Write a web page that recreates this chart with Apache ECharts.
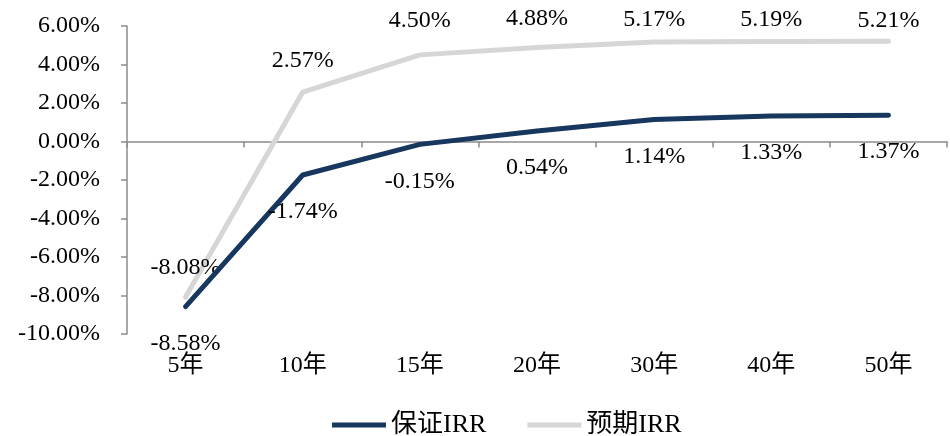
<!DOCTYPE html>
<html>
<head>
<meta charset="utf-8">
<script src="https://cdn.jsdelivr.net/npm/echarts@6/dist/echarts.min.js"></script>
<style>
  html, body { margin: 0; padding: 0; background: #fff; }
  #chart { width: 950px; height: 436px; }
</style>
</head>
<body>
<div id="chart"></div>
<script>
// IRR by holding period
const categories = ['5年', '10年', '15年', '20年', '30年', '40年', '50年'];
const guaranteedIRR = [-8.58, -1.74, -0.15, 0.54, 1.14, 1.33, 1.37];
const expectedIRR = [-8.08, 2.57, 4.50, 4.88, 5.17, 5.19, 5.21];
const yTicks = { min: -10, max: 6, interval: 2 };

// vertical nudges for the upper labels so they clear the line
const expectedLabelShift = [-14, -16, -19, -14, -7, -7, -6];

const FONT = '"Liberation Serif", "Times New Roman", "Noto Sans CJK SC", serif';
const AXIS_GRAY = '#8c8c8c';
const NAVY = '#17375e';
const LIGHT = '#d6d6d6';
const pct = v => v.toFixed(2) + '%';

const chart = echarts.init(document.getElementById('chart'));
chart.setOption({
  animation: false,
  grid: { left: 127, right: 3, top: 26, bottom: 102 },
  legend: {
    bottom: -2,
    left: 332,
    padding: 0,
    itemWidth: 54,
    itemHeight: 5,
    itemGap: 41,
    icon: 'rect',
    textStyle: { fontFamily: FONT, fontSize: 26, color: '#000' },
    data: ['保证IRR', '预期IRR']
  },
  xAxis: [
    {
      // category labels along the bottom edge
      type: 'category',
      data: categories,
      position: 'bottom',
      axisLine: { show: false, onZero: false },
      axisTick: { show: false },
      axisLabel: { fontFamily: FONT, fontSize: 24, color: '#000', margin: 20 }
    },
    {
      // zero line with tick marks between categories
      type: 'category',
      data: categories,
      position: 'top',
      axisLine: { show: true, onZero: true, lineStyle: { color: AXIS_GRAY, width: 1.5 } },
      axisTick: { show: true, inside: true, length: 6, lineStyle: { color: AXIS_GRAY, width: 1.5 } },
      axisLabel: { show: false }
    }
  ],
  yAxis: {
    type: 'value',
    min: yTicks.min,
    max: yTicks.max,
    interval: yTicks.interval,
    splitLine: { show: false },
    axisLine: { show: true, lineStyle: { color: AXIS_GRAY, width: 1.5 } },
    axisTick: { show: true, length: 6, lineStyle: { color: AXIS_GRAY, width: 1.5 } },
    axisLabel: { fontFamily: FONT, fontSize: 24, color: '#000', margin: 27, formatter: pct }
  },
  series: [
    {
      name: '保证IRR',
      type: 'line',
      xAxisIndex: 0,
      data: guaranteedIRR,
      symbol: 'circle',
      symbolSize: 2,
      showSymbol: true,
      itemStyle: { color: NAVY },
      lineStyle: { color: NAVY, width: 5, cap: 'round', join: 'round' },
      label: {
        show: true,
        position: 'bottom',
        distance: 24,
        fontFamily: FONT,
        fontSize: 24,
        color: '#000',
        formatter: p => pct(p.value)
      },
      z: 3
    },
    {
      name: '预期IRR',
      type: 'line',
      xAxisIndex: 0,
      data: expectedIRR.map((v, i) => ({
        value: v,
        label: { offset: [0, expectedLabelShift[i]] }
      })),
      symbol: 'circle',
      symbolSize: 2,
      showSymbol: true,
      itemStyle: { color: LIGHT },
      lineStyle: { color: LIGHT, width: 5, cap: 'round', join: 'round' },
      label: {
        show: true,
        position: 'top',
        distance: 2,
        fontFamily: FONT,
        fontSize: 24,
        color: '#000',
        formatter: p => pct(p.value)
      },
      z: 2
    }
  ]
});
</script>
</body>
</html>
